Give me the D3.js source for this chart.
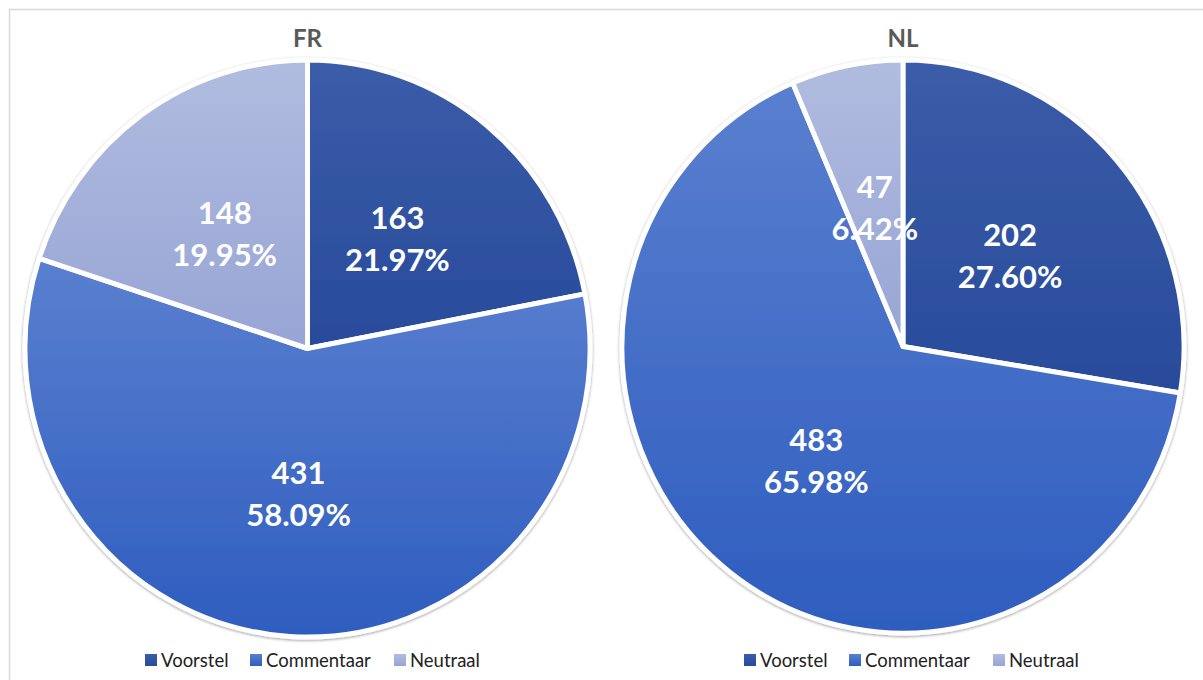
<!DOCTYPE html>
<html>
<head>
<meta charset="utf-8">
<script src="https://cdn.jsdelivr.net/npm/d3@7"></script>
<style>
  body { margin: 0; background: #fff; }
  svg { display: block; font-family: Lato, "Open Sans", sans-serif; }
</style>
</head>
<body>
<script>
const categories = ['Voorstel', 'Commentaar', 'Neutraal'];
const panels = ['FR', 'NL'];
const frValues = [163, 431, 148];
const nlValues = [202, 483, 47];

const width = 1203;
const height = 680;

const colors = {
  Voorstel: ['#3b5ca8', '#284b9b'],
  Commentaar: ['#5a7fcf', '#2e5dbf'],
  Neutraal: ['#b0bcdf', '#98a5d5']
};

const svg = d3.select('body').append('svg')
  .attr('width', width)
  .attr('height', height);

const defs = svg.append('defs');

categories.forEach((c, i) => {
  const grad = defs.append('linearGradient')
    .attr('id', 'g' + i)
    .attr('x1', 0).attr('y1', 0).attr('x2', 0).attr('y2', 1);
  grad.append('stop').attr('offset', '0%').attr('stop-color', colors[c][0]);
  grad.append('stop').attr('offset', '100%').attr('stop-color', colors[c][1]);
});

const shadow = defs.append('filter')
  .attr('id', 'shadow')
  .attr('x', '-10%').attr('y', '-10%')
  .attr('width', '120%').attr('height', '120%');
shadow.append('feDropShadow')
  .attr('dx', 0).attr('dy', 1)
  .attr('stdDeviation', 1.8)
  .attr('flood-color', '#000')
  .attr('flood-opacity', 0.4);

// chart frame
svg.append('rect')
  .attr('x', 9.5).attr('y', 9.5)
  .attr('width', width + 20).attr('height', height + 20)
  .attr('fill', 'none')
  .attr('stroke', '#d9d9d9')
  .attr('stroke-width', 1.5);

const layout = [
  { name: 'FR', values: frValues, cx: 307.5, cy: 348.5, rx: 282.5, ry: 288.5, legendX: 145 },
  { name: 'NL', values: nlValues, cx: 903, cy: 346.5, rx: 281, ry: 286.5, legendX: 744 }
];

const pie = d3.pie().sort(null).value(d => d);

layout.forEach(p => {
  const total = d3.sum(p.values);
  const arcs = pie(p.values);
  const arc = d3.arc().innerRadius(0).outerRadius(p.ry);
  const sx = p.rx / p.ry;

  const g = svg.append('g')
    .attr('transform', `translate(${p.cx},${p.cy})`);

  g.append('g')
    .attr('transform', `scale(${sx},1)`)
    .attr('filter', 'url(#shadow)')
    .selectAll('path')
    .data(arcs)
    .join('path')
      .attr('d', arc)
      .attr('fill', (d, i) => `url(#g${i})`)
      .attr('stroke', '#fff')
      .attr('stroke-width', 5)
      .attr('stroke-linejoin', 'round');

  const labels = g.selectAll('text.lbl')
    .data(arcs)
    .join('text')
      .attr('class', 'lbl')
      .attr('transform', d => {
        const [x, y] = arc.centroid(d);
        return `translate(${x * sx},${y})`;
      })
      .attr('text-anchor', 'middle')
      .attr('fill', '#fff')
      .attr('font-weight', 700)
      .attr('font-size', 31);

  labels.append('tspan')
    .attr('x', 0).attr('dy', -8)
    .text(d => d.data);
  labels.append('tspan')
    .attr('x', 0).attr('dy', 42)
    .text(d => (d.data / total * 100).toFixed(2) + '%');

  svg.append('text')
    .attr('x', p.cx).attr('y', 47)
    .attr('text-anchor', 'middle')
    .attr('font-weight', 700)
    .attr('font-size', 24)
    .attr('fill', '#595959')
    .text(p.name);

  // legend
  const legend = svg.append('g')
    .attr('transform', `translate(${p.legendX},660)`);
  const offsets = [0, 105, 249];
  categories.forEach((c, i) => {
    const item = legend.append('g').attr('transform', `translate(${offsets[i]},0)`);
    item.append('rect')
      .attr('x', 0).attr('y', -6)
      .attr('width', 12).attr('height', 12)
      .attr('fill', `url(#g${i})`);
    item.append('text')
      .attr('x', 16).attr('y', 6.5)
      .attr('font-size', 18.5)
      .attr('fill', '#222')
      .text(c);
  });
});
</script>
</body>
</html>
